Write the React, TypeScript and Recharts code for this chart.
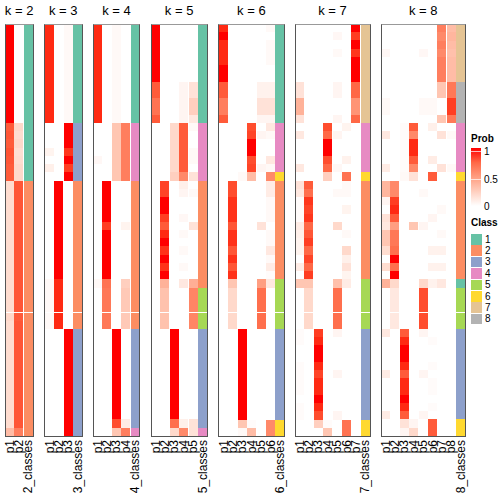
import React from "react";
import { BarChart, Bar, XAxis, YAxis, Cell, ReferenceLine } from "recharts";

// ---------- data ----------
const CLASS_COLORS = ["#66C2A5", "#FC8D62", "#8DA0CB", "#E78AC3", "#A6D854", "#FFD92F", "#E5C494", "#B3B3B3"];
const CLASS_LABELS = ["1", "2", "3", "4", "5", "6", "7", "8"];
const K_VALUES = [2, 3, 4, 5, 6, 7, 8];

const CLASS_K2 = [1,1,1,1,1,1,1,1,1,1, 1,1,1,1,1,1,1,1,1,2, 2,2,2,2,2,2,2,2,2,2, 2,2,2,2,2,2,2,2,2,2, 2,2,2,2,2,2,2,2,2,2];
const CLASS_K3 = [1,1,1,1,1,1,1,1,1,1, 1,1,3,3,3,3,3,3,3,2, 2,2,2,2,2,2,2,2,2,2, 2,2,2,2,2,2,2,3,3,3, 3,3,3,3,3,3,3,3,3,3];
const CLASS_K4 = [1,1,1,1,1,1,1,1,1,1, 1,1,4,4,4,4,4,4,4,2, 2,2,2,2,2,2,2,2,2,2, 2,2,2,2,2,2,2,3,3,3, 3,3,3,3,3,3,3,3,3,4];
const CLASS_K5 = [1,1,1,1,1,1,1,1,1,1, 1,1,4,4,4,4,4,4,4,2, 2,2,2,2,2,2,2,2,2,2, 2,2,5,5,5,5,5,3,3,3, 3,3,3,3,3,3,3,3,3,4];
const CLASS_K6 = [1,1,1,1,1,1,1,1,1,1, 1,1,4,4,4,4,4,4,6,2, 2,2,2,2,2,2,2,2,2,2, 2,5,5,5,5,5,5,3,3,3, 3,3,3,3,3,3,3,3,6,6];
const CLASS_K7 = [7,7,7,7,7,7,7,7,7,7, 7,7,4,4,4,4,4,4,6,2, 2,2,2,2,2,2,2,2,2,2, 2,5,5,5,5,5,5,3,3,3, 3,3,3,3,3,3,3,3,6,6];
const CLASS_K8 = [7,7,7,7,7,7,7,8,8,8, 8,8,4,4,4,4,4,4,6,2, 2,2,2,2,2,2,2,2,2,2, 2,1,5,5,5,5,5,3,3,3, 3,3,3,3,3,3,3,3,6,6];

const PROB_K2 = [
  [1,0],[1,0],[1,0],[1,0],[1,0],[1,0],[1,0],[1,0],[1,0],[1,0],
  [1,0],[1,0],[.8,.2],[.82,.18],[.8,.2],[.83,.17],[.82,.18],[.8,.2],[.8,.2],[.18,.82],
  [.18,.82],[.18,.82],[.18,.82],[.18,.82],[.18,.82],[.18,.82],[.18,.82],[.18,.82],[.18,.82],[.18,.82],
  [.18,.82],[.18,.82],[.18,.82],[.18,.82],[.18,.82],[.2,.8],[.18,.82],[.18,.82],[.18,.82],[.18,.82],
  [.18,.82],[.18,.82],[.18,.82],[.18,.82],[.18,.82],[.18,.82],[.18,.82],[.18,.82],[.18,.82],[.35,.65],
];
const PROB_K3 = [
  [.95,0,.03],[.95,0,.03],[.95,0,.03],[.95,0,.03],[.95,0,.03],[.95,0,.03],[.95,0,.03],[.95,0,.03],[.95,0,.03],[.95,0,.03],
  [.95,0,.03],[.95,0,.03],[0,0,1],[0,0,1],[0,0,1],[.06,0,.92],[0,0,1],[.08,0,.9],[0,0,1],[0,1,0],
  [0,1,0],[0,1,0],[0,1,0],[0,1,0],[0,1,0],[0,1,0],[0,1,0],[0,1,0],[0,1,0],[0,1,0],
  [0,1,0],[.03,.95,0],[.03,.95,0],[.03,.95,0],[.03,.95,0],[.03,.95,0],[.03,.95,0],[0,0,1],[0,0,1],[0,0,1],
  [0,0,1],[0,0,1],[0,0,1],[0,0,1],[0,0,1],[0,0,1],[0,0,1],[0,0,1],[0,0,1],[0,0,1],
];
const PROB_K4 = [
  [.95,0,.03,0],[.95,0,.03,0],[.95,0,.03,0],[.95,0,.03,0],[.95,0,.03,0],[.95,0,.03,0],[.95,0,.03,0],[.95,0,.03,0],[.95,0,.03,0],[.95,0,.03,0],
  [.95,0,.03,0],[.95,0,.03,0],[0,0,.3,.65],[0,0,.3,.65],[0,0,.3,.65],[0,0,.3,.65],[.04,0,.3,.65],[0,0,.3,.65],[0,0,.3,.65],[0,1,0,0],
  [0,1,0,0],[0,1,0,0],[0,1,0,0],[0,1,0,0],[0,.9,0,.06],[0,1,0,0],[0,1,0,0],[0,1,0,0],[0,1,0,0],[0,1,0,0],
  [0,1,0,0],[.03,.7,0,.25],[0,.68,0,.28],[0,.68,0,.28],[0,.68,0,.28],[0,.68,0,.28],[0,.68,0,.28],[0,0,1,0],[0,0,1,0],[0,0,1,0],
  [0,0,1,0],[0,0,1,0],[0,0,1,0],[0,0,1,0],[0,0,1,0],[0,0,1,0],[0,0,1,0],[0,0,1,0],[0,0,.85,.1],[0,0,.3,.65],
];
const PROB_K5 = [
  [1,0,0,0,0],[1,0,0,0,0],[1,0,0,0,0],[1,0,0,0,0],[1,0,0,0,0],[1,0,0,0,0],[1,0,0,0,0],[.8,0,0,.05,.15],[.8,0,0,.05,.15],[.7,0,0,.05,.25],
  [.7,0,0,.05,.25],[.8,0,0,.05,.12],[0,0,.2,.8,.03],[0,0,.2,.8,0],[0,0,.2,.8,0],[0,0,.2,.8,.03],[0,0,.2,.8,.03],[0,0,.2,.8,0],[0,0,.25,.6,.15],[0,.88,0,.08,0],
  [0,.88,0,.05,.03],[0,1,0,0,0],[0,1,0,0,0],[0,.9,0,.04,0],[0,.8,0,0,.15],[0,.95,0,.03,0],[0,1,0,0,0],[0,.93,0,.03,0],[0,1,0,0,0],[0,.93,0,.03,0],
  [0,1,0,0,0],[0,.4,0,.12,.42],[0,.32,0,0,.62],[0,.32,0,0,.62],[0,.32,0,0,.62],[0,.32,0,0,.62],[0,.32,0,0,.62],[0,0,1,0,0],[0,0,1,0,0],[0,0,1,0,0],
  [0,0,1,0,0],[0,0,1,0,0],[0,0,1,0,0],[0,0,1,0,0],[0,0,1,0,0],[0,0,1,0,0],[0,0,1,0,0],[0,0,1,0,0],[0,0,.72,.08,.15],[0,0,.2,.6,.15],
];
const PROB_K6 = [
  [.95,0,0,0,0,.03],[1,0,0,0,0,0],[.95,0,0,0,0,.03],[.95,0,0,0,0,.03],[.95,0,0,0,0,.03],[1,0,0,0,0,0],[1,0,0,0,0,0],[.8,0,0,0,.07,.07],[.8,0,0,0,.07,.07],[.65,0,0,0,.15,.15],
  [.65,0,0,0,.15,.15],[.8,0,0,0,.05,.05],[0,0,0,.85,0,.12],[0,0,0,.88,.05,.03],[0,0,0,1,0,0],[0,0,0,1,0,0],[0,0,0,.85,0,.12],[0,0,0,.88,.05,.03],[0,0,.03,.35,0,.6],[0,.85,0,0,0,.1],
  [0,.85,0,0,0,.1],[0,.93,0,0,0,.03],[0,.93,0,0,0,.03],[0,.93,0,0,0,.03],[0,.82,0,0,.15,0],[0,.93,0,0,0,.03],[0,.93,0,0,0,.03],[0,.82,0,0,0,.12],[0,.93,0,0,0,.03],[0,.82,0,0,0,.1],
  [0,.93,0,0,0,.02],[0,.3,0,0,.5,.12],[0,.2,0,0,.72,0],[0,.2,0,0,.72,0],[0,.2,0,0,.72,0],[0,.2,0,0,.72,0],[0,.2,0,0,.72,0],[0,0,1,0,0,0],[0,0,1,0,0,0],[0,0,1,0,0,0],
  [0,0,1,0,0,0],[0,0,1,0,0,0],[0,0,1,0,0,0],[0,0,1,0,0,0],[0,0,1,0,0,0],[0,0,1,0,0,0],[0,0,1,0,0,0],[0,0,1,0,0,0],[0,0,.3,.02,0,.6],[0,0,.03,.35,0,.6],
];
const PROB_K7 = [
  [0,0,0,0,0,0,1],[0,0,0,0,.04,0,.9],[0,0,0,0,0,0,1],[0,0,0,0,.03,0,.92],[0,0,0,0,0,0,1],[0,0,0,0,0,0,1],[0,0,0,0,0,0,1],[.15,0,0,0,.05,0,.75],[.15,0,0,0,.05,0,.75],[.4,0,0,0,0,0,.55],
  [.4,0,0,0,0,0,.55],[.15,0,0,0,.05,0,.75],[0,0,0,.85,0,.06,0],[.12,0,0,.75,.05,0,0],[0,0,0,1,0,0,0],[0,0,0,1,0,0,0],[0,0,0,.85,0,.07,0],[.12,0,0,.75,.04,0,0],[0,0,0,.25,0,.7,0],[.15,.8,0,0,0,.03,0],
  [.12,.72,0,0,.03,.03,0],[.02,.92,0,0,0,0,0],[.02,.88,0,0,0,.06,0],[.02,.92,0,0,0,0,0],[.1,.75,0,0,.2,0,0],[.08,.82,0,0,0,.03,0],[.06,.9,0,0,0,0,0],[.06,.75,0,0,0,.2,0],[0,.88,0,0,0,.08,0],[.1,.75,0,0,0,.15,0],
  [0,.9,0,0,0,.06,0],[.3,.3,0,0,.33,.1,0],[0,.2,0,0,.72,0,0],[0,.2,0,0,.72,0,0],[0,.2,0,0,.72,0,0],[0,.2,0,0,.72,0,0],[0,.2,0,0,.72,0,0],[.02,0,.9,0,.05,0,0],[.02,0,.95,0,0,0,0],[0,0,1,0,0,0,0],
  [0,0,1,0,0,0,0],[.02,0,.95,0,0,0,0],[.02,0,.88,0,.05,0,0],[.02,0,.95,0,0,0,0],[.02,0,.95,0,0,0,0],[0,0,1,0,0,0,0],[.02,0,.95,0,0,0,0],[.02,0,.85,0,.05,0,0],[0,0,.25,.02,0,.7,0],[0,0,0,.3,0,.7,0],
];
const PROB_K8 = [
  [0,0,0,0,0,0,.65,.35],[0,0,0,0,0,0,.6,.38],[0,0,0,0,0,0,.65,.35],[.04,0,0,0,.04,0,.6,.33],[0,0,0,0,0,0,.65,.35],[0,0,0,0,0,0,.65,.35],[0,0,0,0,0,0,.65,.35],[0,0,0,0,0,0,.3,.68],[0,0,0,0,0,0,.3,.68],[.03,0,0,0,.03,.03,0,.9],
  [.03,0,0,0,.03,.03,0,.9],[0,0,0,0,0,0,.3,.68],[0,0,.02,.8,0,.08,0,0],[.12,0,.02,.6,0,0,.15,.03],[0,0,.02,.95,0,0,0,0],[0,0,.02,.95,0,0,0,0],[0,0,.02,.8,0,.1,0,0],[.1,0,.02,.6,0,0,.15,.03],[0,0,.03,.15,0,.8,0,0],[.38,.6,0,0,0,0,0,0],
  [.38,.6,0,0,.03,0,0,0],[.05,.9,0,0,0,0,0,0],[0,.95,0,0,0,0,.03,0],[.15,.8,0,0,0,.05,0,0],[.12,.5,0,.3,.05,0,0,0],[.3,.68,0,0,0,0,.03,0],[.3,.68,0,0,0,0,0,0],[.18,.72,0,0,0,.07,.07,0],[0,1,0,0,0,0,0,0],[.18,.72,0,0,0,.07,.07,0],
  [0,1,0,0,0,0,0,0],[.4,.2,0,0,.2,.07,.12,0],[0,.12,0,0,.85,0,0,0],[0,.12,0,0,.85,0,0,0],[0,.12,0,0,.85,0,0,0],[0,.12,0,0,.85,0,0,0],[0,.12,0,0,.85,0,0,0],[.12,0,.8,0,.05,0,0,0],[0,0,.95,0,0,.02,0,0],[0,0,1,0,0,0,0,0],
  [0,0,1,0,0,0,0,0],[0,0,.95,0,0,.02,0,0],[.1,0,.8,0,.05,0,0,0],[0,0,.95,0,0,.02,0,0],[0,0,.95,0,0,.02,0,0],[0,0,1,0,0,0,0,0],[0,0,.95,0,0,.02,0,0],[.1,0,.8,0,.05,0,0,0],[0,0,.15,.05,0,.8,0,0],[0,0,.05,.2,0,.8,0,0],
];

const PROBS: Record<number, number[][]> = { 2: PROB_K2, 3: PROB_K3, 4: PROB_K4, 5: PROB_K5, 6: PROB_K6, 7: PROB_K7, 8: PROB_K8 };
const CLASSES: Record<number, number[]> = { 2: CLASS_K2, 3: CLASS_K3, 4: CLASS_K4, 5: CLASS_K5, 6: CLASS_K6, 7: CLASS_K7, 8: CLASS_K8 };
const LEGEND_TICKS = ["1", "0.5", "0"];

// ---------- layout / style ----------
const FONT = "'Liberation Sans', Arial, Helvetica, sans-serif";
const COLW = 9.38;
const TOP = 24;
const HM_H = 412;
const SIDE = 10;
const PANEL_LEFT: Record<number, number> = { 2: 5, 3: 44.5, 4: 93, 5: 151, 6: 218.5, 7: 295, 8: 381 };

function probColor(v: number): string {
  const L = 100 + (53.2408 - 100) * v;
  const A = 80.0925 * v;
  const B = 67.2032 * v;
  const fy = (L + 16) / 116, fx = fy + A / 500, fz = fy - B / 200;
  const finv = (t: number) => (t * t * t > 0.008856 ? t * t * t : (t - 16 / 116) / 7.787);
  const X = 0.95047 * finv(fx), Y = finv(fy), Z = 1.08883 * finv(fz);
  const r = 3.2406 * X - 1.5372 * Y - 0.4986 * Z;
  const g = -0.9689 * X + 1.8758 * Y + 0.0415 * Z;
  const b = 0.0557 * X - 0.204 * Y + 1.057 * Z;
  const gam = (c: number) => {
    c = Math.min(1, Math.max(0, c));
    return c <= 0.0031308 ? 12.92 * c : 1.055 * Math.pow(c, 1 / 2.4) - 0.055;
  };
  return `rgb(${Math.round(gam(r) * 255)},${Math.round(gam(g) * 255)},${Math.round(gam(b) * 255)})`;
}

const RotTick = (props: any) => {
  const { x, y, payload } = props;
  return (
    <text
      x={x}
      y={y}
      transform={`rotate(-90 ${x} ${y})`}
      textAnchor="end"
      dominantBaseline="central"
      fontSize={12}
      fontFamily={FONT}
      fill="#000"
    >
      {payload.value}
    </text>
  );
};

function Panel({ k }: { k: number }) {
  const probs = PROBS[k];
  const classes = CLASSES[k];
  const nrow = classes.length;
  const names = [...Array.from({ length: k }, (_, i) => `p${i + 1}`), `${k}_classes`];
  const data = names.map((name) => {
    const o: any = { name };
    for (let r = 0; r < nrow; r++) o["r" + r] = 1;
    return o;
  });
  const w = names.length * COLW;
  const left = PANEL_LEFT[k];
  return (
    <>
      <div
        style={{
          position: "absolute",
          left: left + w / 2 - 40,
          width: 80,
          top: 3,
          textAlign: "center",
          fontFamily: FONT,
          fontSize: 13,
          lineHeight: "16px",
          whiteSpace: "nowrap",
        }}
      >
        k = {k}
      </div>
      <div style={{ position: "absolute", left: left - SIDE, top: 0 }}>
        <BarChart
          width={w + 2 * SIDE}
          height={504}
          data={data}
          margin={{ top: TOP, right: SIDE, left: SIDE, bottom: 0 }}
          barCategoryGap={0}
          barGap={0}
          style={{ shapeRendering: "crispEdges" }}
        >
          <XAxis
            dataKey="name"
            interval={0}
            tick={<RotTick />}
            tickLine={false}
            axisLine={false}
            tickSize={0}
            tickMargin={4}
            height={504 - TOP - HM_H}
          />
          <YAxis hide type="number" domain={[0, nrow]} reversed allowDataOverflow />
          {classes.map((_, r) => (
            <Bar key={r} dataKey={"r" + r} stackId="s" isAnimationActive={false}>
              {names.map((n, c) => (
                <Cell
                  key={n}
                  fill={c < k ? probColor(probs[r][c]) : CLASS_COLORS[classes[r] - 1]}
                />
              ))}
            </Bar>
          ))}
          <ReferenceLine y={35} stroke="#ffffff" strokeWidth={1} ifOverflow="visible" />
        </BarChart>
      </div>
      <div
        style={{
          position: "absolute",
          left: left - 0.5,
          top: TOP - 0.5,
          width: w + 1,
          height: HM_H + 1,
          boxSizing: "border-box",
          border: "1px solid #555",
          borderTop: "1.5px solid #999",
          pointerEvents: "none",
        }}
      />
    </>
  );
}

function Legend() {
  const stops = [1, 0.75, 0.5, 0.25, 0].map((v, i) => `${probColor(v)} ${i * 25}%`).join(", ");
  const labelStyle: React.CSSProperties = { position: "absolute", fontFamily: FONT, fontSize: 10, lineHeight: "10px" };
  return (
    <>
      <div style={{ ...labelStyle, left: 471, top: 134, fontWeight: "bold" }}>Prob</div>
      <div
        style={{
          position: "absolute",
          left: 471,
          top: 148,
          width: 10,
          height: 58,
          background: `linear-gradient(to bottom, ${stops})`,
        }}
      />
      <div style={{ position: "absolute", left: 471, top: 151, width: 10, height: 1, background: "rgba(255,255,255,0.7)" }} />
      <div style={{ position: "absolute", left: 471, top: 179, width: 10, height: 1, background: "rgba(255,255,255,0.7)" }} />
      {LEGEND_TICKS.map((t, i) => (
        <div key={t} style={{ ...labelStyle, left: 484, top: 147 + i * 27.5 }}>
          {t}
        </div>
      ))}
      <div style={{ ...labelStyle, left: 471, top: 218, fontWeight: "bold" }}>Class</div>
      {CLASS_LABELS.map((lab, i) => (
        <React.Fragment key={lab}>
          <div
            style={{
              position: "absolute",
              left: 471,
              top: 234 + i * 11.4,
              width: 11,
              height: 10.6,
              background: CLASS_COLORS[i],
            }}
          />
          <div style={{ ...labelStyle, left: 485, top: 234.5 + i * 11.4 }}>{lab}</div>
        </React.Fragment>
      ))}
    </>
  );
}

export default function App() {
  return (
    <div style={{ position: "absolute", left: 0, top: 0, width: 504, height: 504, background: "#fff", overflow: "hidden" }}>
      {K_VALUES.map((k) => (
        <Panel key={k} k={k} />
      ))}
      <Legend />
    </div>
  );
}
